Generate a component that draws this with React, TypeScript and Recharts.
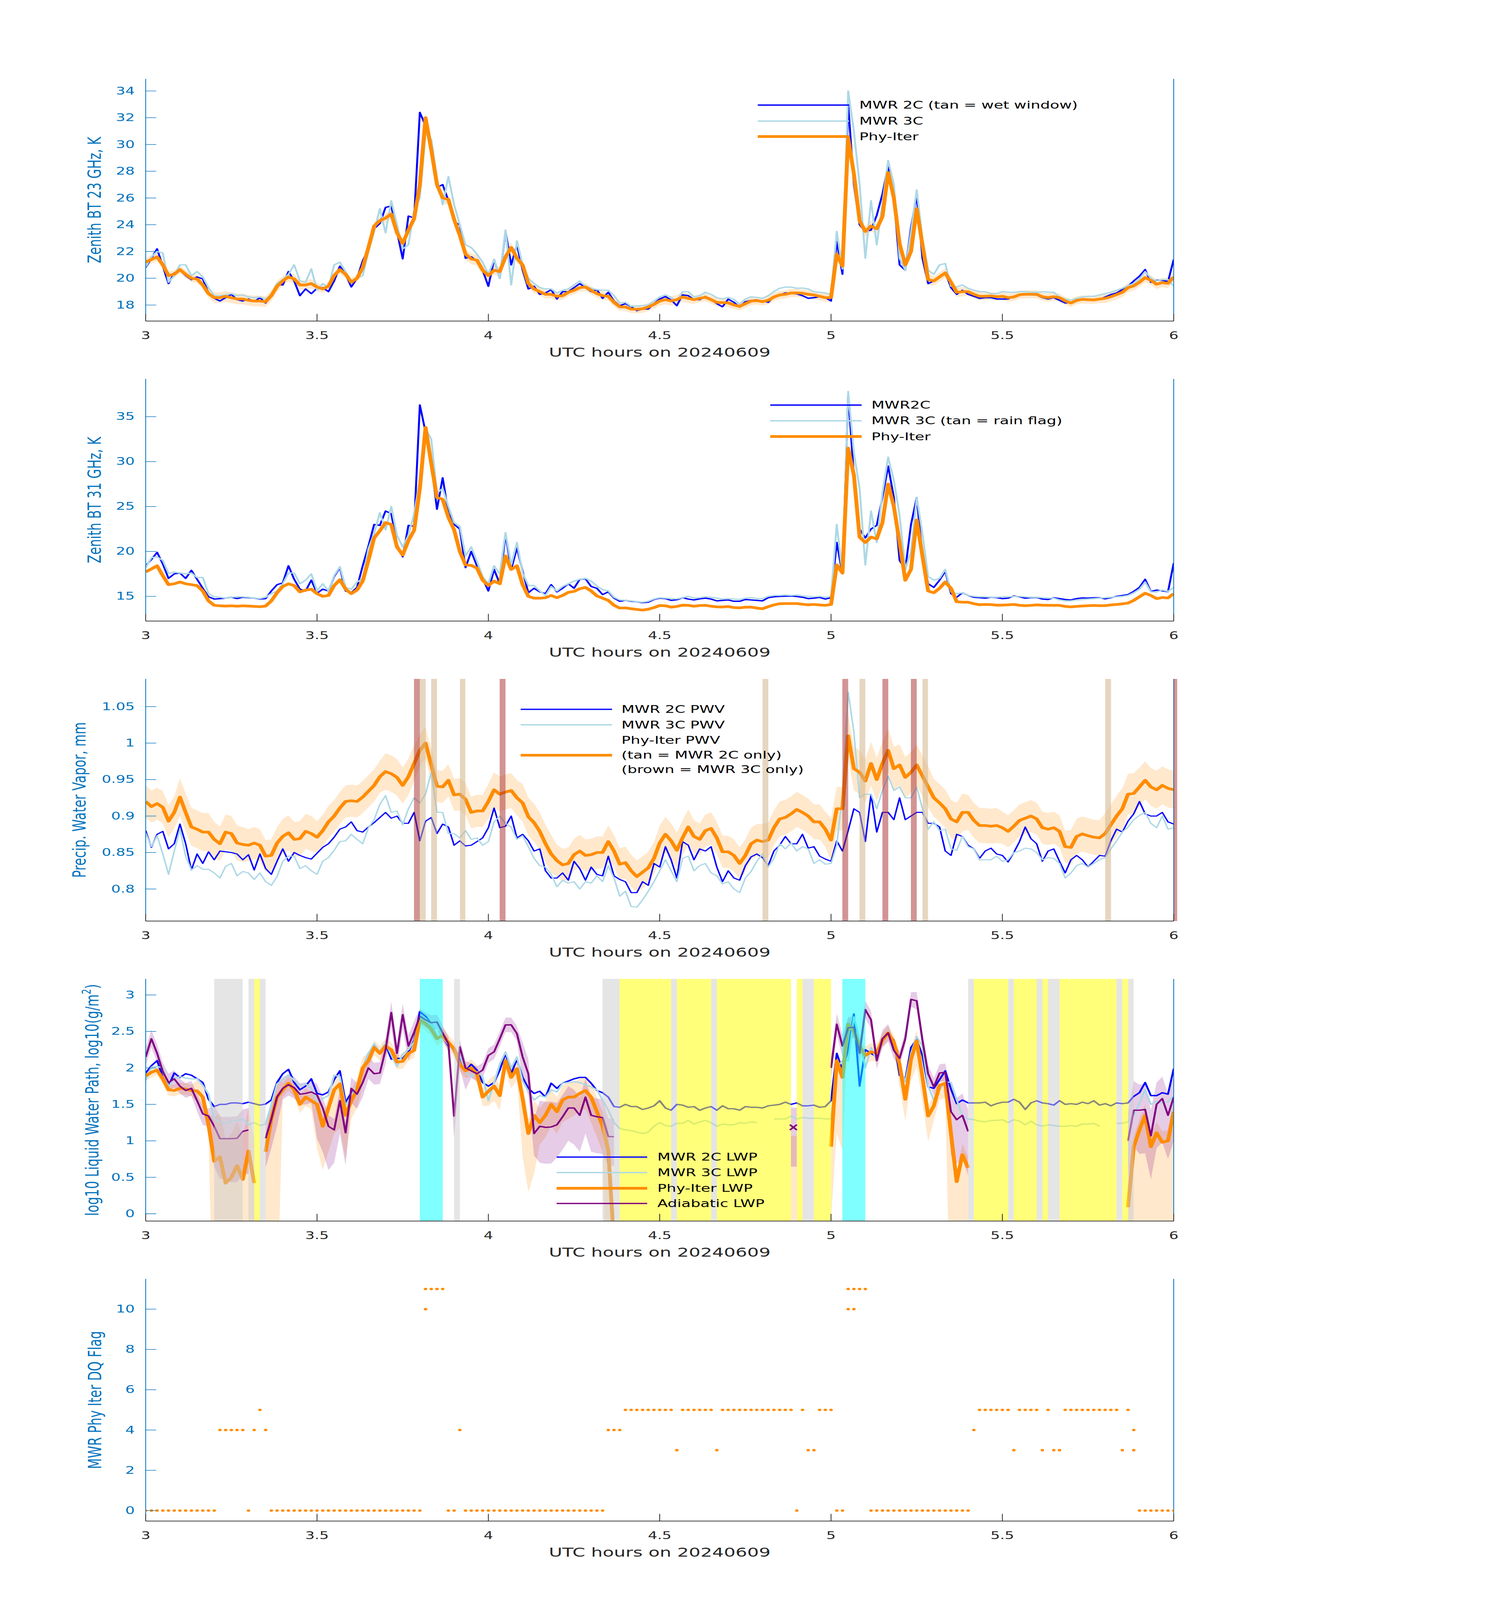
import React from "react";
import {
    ComposedChart,
    Line,
    Area,
    Scatter,
    XAxis,
    YAxis,
    ReferenceArea,
    ReferenceLine,
} from "recharts";

const FONT = "'DejaVu Sans', sans-serif";
const AXIS_BLUE = "#0072BD";
const AXIS_DARK = "#262626";
const BLUE = "#0000FF";
const LIGHT_BLUE = "#ADD8E6";
const ORANGE = "#FF8C00";
const PURPLE = "#800080";

const X_TICKS = [3, 3.5, 4, 4.5, 5, 5.5, 6];
// all series are sampled once a minute starting at 03:00 UTC
const START_HOUR = 3;

// ---- panel 1: 23 GHz brightness temperature (K)
const mwr2c23 = [
    20.8, 21.5, 22.2, 20.9, 19.6, 20.4, 20.6, 20.2, 19.9, 20.1,
    19.95, 18.9, 18.5, 18.3, 18.55, 18.8, 18.4, 18.3, 18.45, 18.25,
    18.55, 18.15, 18.7, 19.55, 19.5, 20.5, 19.8, 18.7, 19.2, 18.85,
    19.25, 19.3, 19.0, 19.8, 20.9, 20.3, 19.35, 20.0, 21.3, 22.2,
    23.7, 24.1, 25.3, 25.4, 23.5, 21.45, 24.65, 24.5, 32.4, 31.4,
    30.0, 26.8, 27.0, 25.8, 24.2, 24.0, 21.5, 21.6, 21.3, 20.6,
    19.4, 21.4, 20.0, 23.5, 21.0, 22.5, 20.6, 19.2, 19.4, 18.8,
    18.9, 19.15, 18.45, 19.0, 19.0, 19.3, 19.6, 19.3, 19.0, 19.15,
    18.5, 18.95, 18.3, 17.95, 18.1, 17.88, 17.58, 17.7, 17.7, 18.1,
    18.45, 18.63, 18.38, 17.95, 18.76, 18.7, 18.4, 18.4, 18.64, 18.4,
    18.1, 17.87, 18.44, 18.2, 17.85, 18.25, 18.35, 18.38, 18.3, 18.2,
    18.64, 18.76, 18.9, 18.88, 18.83, 18.7, 18.5, 18.55, 18.62, 18.55,
    18.3, 22.75, 20.3, 33.0, 27.0, 24.0, 23.5, 23.6, 24.7, 26.3,
    28.4, 26.0, 21.0, 20.6, 23.8, 26.2, 21.5, 19.6, 19.8, 20.1,
    20.45, 19.3, 18.8, 19.1, 18.8, 18.65, 18.5, 18.55, 18.55, 18.45,
    18.45, 18.45, 18.65, 18.78, 18.8, 18.77, 18.75, 18.55, 18.45, 18.55,
    18.35, 18.15, 18.2, 18.3, 18.4, 18.4, 18.4, 18.42, 18.6, 18.78,
    18.9, 19.15, 19.4, 19.8, 20.15, 20.65, 19.7, 19.85, 19.85, 19.75,
    21.4,
];
const mwr3c23 = [
    20.85, 21.6, 22.0, 21.9, 19.7, 20.2, 21.0, 21.0, 20.2, 20.5,
    20.1, 19.3, 18.7, 18.7, 18.75, 18.85, 18.7, 18.75, 18.6, 18.55,
    18.6, 18.45, 18.8, 19.6, 19.9, 20.3, 21.0, 19.8, 19.7, 20.7,
    19.1, 19.6, 19.3, 21.0, 21.2, 20.5, 19.7, 20.0, 20.2, 22.0,
    23.5, 25.2, 23.4, 25.8, 24.0, 22.2, 22.5, 25.1, 26.0, 30.8,
    30.4, 27.5, 25.5, 27.6, 25.5, 24.0, 22.5, 22.3, 21.8, 21.2,
    20.3, 21.4, 20.0, 23.6, 19.5, 22.8, 21.0, 20.0, 19.6, 19.3,
    19.2, 19.2, 18.9, 19.1, 19.2, 19.5, 19.8, 19.4, 19.25, 19.15,
    19.1, 19.1, 18.7, 18.15, 18.2, 17.9, 17.93, 17.95, 18.0, 18.3,
    18.6, 18.76, 18.57, 18.3, 19.0, 19.0, 18.6, 18.7, 18.95, 18.8,
    18.55, 18.45, 18.57, 18.42, 18.05, 18.45, 18.62, 18.57, 18.5, 18.7,
    19.0, 19.25, 19.34, 19.34, 19.25, 19.27, 19.2, 19.0, 18.95, 18.9,
    18.8, 23.5, 20.7, 34.0, 31.0, 27.0, 21.5, 25.8, 22.5, 25.6,
    28.8, 27.0, 21.5, 20.6, 23.5, 26.6, 23.0, 20.6, 20.3, 21.0,
    21.1, 19.4, 19.35, 19.5, 19.25, 19.1, 19.0, 19.0, 18.85, 18.85,
    19.0, 18.95, 18.95, 19.0, 19.0, 18.95, 18.95, 19.0, 18.95, 18.95,
    18.6, 18.45, 18.35, 18.5, 18.6, 18.65, 18.65, 18.75, 18.85, 18.95,
    19.1, 19.25, 19.45, 19.6, 19.95, 20.5, 20.0, 19.8, 19.9, 19.9,
    19.4,
];
const phy23 = [
    21.2, 21.4, 21.6, 21.0, 20.2, 20.3, 20.65, 20.3, 20.0, 19.95,
    19.5, 18.85, 18.55, 18.55, 18.65, 18.55, 18.45, 18.45, 18.35, 18.3,
    18.3, 18.25, 18.7, 19.4, 19.8, 20.1, 19.95, 19.5, 19.5, 19.6,
    19.35, 19.2, 19.4, 20.2, 20.65, 20.3, 19.7, 20.0, 20.8, 22.3,
    23.9, 24.3, 24.5, 24.8, 23.4, 22.6, 23.6, 24.45, 27.0, 32.0,
    29.6, 27.0, 26.0, 25.9, 24.4, 23.2, 21.8, 21.45, 21.35, 20.6,
    20.2, 20.6, 20.5, 21.6, 22.3, 21.5, 21.0, 19.6, 19.2, 19.0,
    18.8, 18.8, 18.65, 18.7, 18.95, 19.1, 19.3, 19.35, 19.1, 18.85,
    18.7, 18.65, 18.2, 17.87, 17.85, 17.7, 17.68, 17.72, 17.85, 18.05,
    18.3, 18.4, 18.3, 18.4, 18.6, 18.5, 18.4, 18.5, 18.58, 18.4,
    18.2, 18.18, 18.16, 18.0, 17.9, 18.1, 18.3, 18.33, 18.25, 18.35,
    18.6, 18.75, 18.8, 18.9, 18.9, 18.88, 18.8, 18.75, 18.65, 18.55,
    18.56, 21.8, 20.9, 30.5, 27.8, 24.3, 23.5, 23.9, 23.7, 24.6,
    27.9, 26.0, 22.6, 21.0, 22.0, 25.2, 22.5, 19.9, 19.8, 20.1,
    20.4, 19.7, 18.95, 19.0, 19.0, 18.8, 18.65, 18.65, 18.68, 18.62,
    18.65, 18.55, 18.6, 18.77, 18.8, 18.8, 18.8, 18.62, 18.55, 18.62,
    18.55, 18.3, 18.15, 18.35, 18.42, 18.4, 18.38, 18.44, 18.5, 18.62,
    18.78, 18.95, 19.3, 19.43, 19.7, 20.05, 19.85, 19.55, 19.68, 19.62,
    20.1,
];
// Phy-Iter uncertainty half width, one value per 6 minutes
const unc23 = [
    0.3, 0.3, 0.4, 0.4, 0.35, 0.3, 0.3, 0.35, 0.4, 0.4,
    0.35, 0.3, 0.3, 0.3, 0.3, 0.35, 0.3, 0.3, 0.3, 0.3,
    0.35, 0.4, 0.4, 0.35, 0.3, 0.3, 0.3, 0.3, 0.35, 0.35,
    0.35,
];

// ---- panel 2: 31 GHz brightness temperature (K)
const mwr2c31 = [
    18.4, 19.1, 19.9, 18.6, 17.0, 17.5, 17.6, 17.0, 17.9, 16.9,
    15.9, 14.95, 14.7, 14.75, 14.8, 14.9, 14.75, 14.9, 14.85, 14.8,
    14.7, 14.75, 15.6, 16.3, 16.5, 18.4, 16.9, 15.8, 15.6, 16.8,
    15.35, 15.8, 15.6, 17.2, 18.2, 15.6, 15.4, 16.0, 18.4, 20.6,
    23.0, 22.9, 24.5, 24.2, 20.8, 19.4, 22.9, 22.8, 36.3, 33.3,
    29.8, 24.7, 28.2, 24.3, 23.0, 22.5, 18.2, 20.0, 18.4, 17.0,
    15.6, 18.0, 16.4, 21.9, 18.0, 20.4, 17.8, 15.4, 15.9, 15.5,
    15.3, 16.3, 15.5, 15.9, 16.4, 15.9, 16.9, 16.95, 16.1, 15.9,
    15.2, 15.5, 14.8, 14.45, 14.55, 14.45, 14.4, 14.3, 14.35, 14.65,
    14.8, 14.75, 14.55, 14.62, 14.85, 14.7, 14.6, 14.72, 14.8, 14.7,
    14.5, 14.55, 14.6, 14.45, 14.45, 14.65, 14.6, 14.55, 14.5, 14.85,
    14.95, 15.0, 15.02, 15.04, 14.98, 14.9, 14.75, 14.8, 14.88, 14.7,
    14.85, 21.0, 17.5, 37.5, 28.4, 22.5, 21.5, 22.5, 22.9, 26.0,
    29.5, 26.0, 19.0, 18.0, 23.0, 26.0, 19.5, 16.4, 16.0, 16.8,
    17.8, 15.3, 14.9, 15.4, 15.1, 14.9, 14.85, 14.8, 14.9, 14.85,
    14.75, 14.8, 15.05, 14.95, 14.8, 14.85, 14.88, 14.7, 14.65, 14.85,
    14.75, 14.65, 14.6, 14.75, 14.83, 14.8, 14.85, 14.85, 14.72, 14.85,
    15.0, 15.1, 15.2, 15.55, 16.0, 16.9, 15.55, 15.7, 15.6, 15.52,
    18.7,
];
const mwr3c31 = [
    18.2, 19.3, 19.4, 19.0, 17.55, 17.7, 17.6, 17.5, 17.6, 17.1,
    17.1, 15.3, 14.95, 14.9, 14.8, 14.9, 14.95, 14.95, 14.9, 14.8,
    14.75, 14.9, 15.3, 15.6, 16.4, 17.6, 17.6, 16.4, 16.8, 17.5,
    15.6, 16.4, 15.6, 17.3, 18.3, 16.0, 15.8, 16.6, 16.95, 20.3,
    22.0, 24.3, 22.4, 25.0, 21.8, 20.5, 21.8, 24.2, 28.0, 33.7,
    32.5, 26.5, 27.0, 25.0, 23.2, 22.8, 19.5, 20.5, 18.9, 17.2,
    16.4, 18.4, 17.5, 22.1, 18.5, 21.0, 17.6, 16.2, 16.2, 15.6,
    15.1, 16.1, 15.6, 16.1, 16.4, 16.7, 16.9, 17.0, 16.7, 16.15,
    15.75, 15.6, 14.9, 14.6, 14.55, 14.5, 14.4, 14.35, 14.45, 14.7,
    14.85, 14.8, 14.75, 14.72, 14.85, 15.0, 14.8, 14.85, 14.95, 14.9,
    14.8, 14.7, 14.75, 14.7, 14.65, 14.8, 14.85, 14.75, 14.75, 15.0,
    15.1, 15.1, 15.15, 15.1, 15.15, 15.05, 15.0, 14.95, 15.0, 14.9,
    15.0, 23.0, 17.5, 37.8, 31.0, 27.0, 18.5, 24.5, 21.0, 26.5,
    30.5, 27.9, 24.0, 18.0, 20.0, 26.0, 22.0, 17.2, 16.8, 17.0,
    18.0, 15.5, 15.3, 15.4, 15.1, 15.0, 14.95, 14.95, 14.9, 14.9,
    14.95, 14.95, 15.0, 15.0, 14.95, 14.9, 14.9, 14.85, 14.8, 14.8,
    14.6, 14.5, 14.5, 14.6, 14.65, 14.7, 14.75, 14.8, 14.85, 14.9,
    14.95, 15.0, 15.1, 15.4, 15.8, 16.6, 15.5, 15.5, 15.7, 15.55,
    16.0,
];
const phy31 = [
    17.73, 18.05, 18.4, 17.3, 16.3, 16.4, 16.6, 16.4, 16.3, 16.2,
    15.6, 14.5, 14.0, 13.95, 13.92, 13.95, 13.9, 13.95, 13.92, 13.88,
    13.85, 13.92, 14.5, 15.4, 16.1, 16.4, 16.2, 15.5, 15.7, 15.8,
    15.3, 15.0, 15.1, 16.2, 16.85, 15.8, 15.3, 15.7, 16.7, 19.0,
    21.5, 22.3, 23.2, 23.0, 20.5, 19.6, 21.2, 22.35, 27.0, 33.8,
    29.8, 26.0, 25.8, 23.8, 22.4, 20.0, 18.5, 18.45, 18.15, 16.8,
    16.2, 16.7, 16.4, 19.5, 18.0, 18.4, 16.3, 15.0, 14.8, 14.8,
    14.85, 15.1, 14.85, 15.1, 15.45, 15.55, 15.85, 16.0, 15.6, 15.05,
    14.8, 14.55, 14.0, 13.7, 13.72, 13.62, 13.55, 13.47, 13.57, 13.75,
    13.98, 13.95, 13.8, 13.88, 14.02, 14.0, 13.9, 13.98, 14.0, 13.9,
    13.83, 13.82, 13.87, 13.75, 13.72, 13.8, 13.8, 13.7, 13.62, 13.85,
    14.05, 14.18, 14.2, 14.2, 14.2, 14.12, 14.06, 14.1, 14.05, 14.0,
    14.1, 18.5, 17.6, 31.5, 28.5, 21.6, 21.0, 21.6, 21.4, 23.2,
    27.5, 25.0, 21.0, 16.8, 18.0, 23.5, 19.5, 15.6, 15.4, 15.9,
    16.6, 15.9, 14.4, 14.35, 14.35, 14.18, 14.07, 14.1, 14.08, 14.02,
    14.03, 14.06, 14.1, 14.0, 13.96, 14.0, 14.05, 14.02, 14.0, 14.0,
    14.0, 13.88, 13.83, 13.88, 13.93, 13.96, 13.99, 13.96, 13.97, 14.05,
    14.1, 14.17, 14.25, 14.55, 14.95, 15.35, 15.1, 14.75, 14.87, 14.82,
    15.3,
];
const unc31 = [
    0.15, 0.15, 0.15, 0.15, 0.15, 0.15, 0.15, 0.2, 0.2, 0.2,
    0.15, 0.15, 0.15, 0.15, 0.15, 0.15, 0.15, 0.15, 0.15, 0.15,
    0.15, 0.2, 0.2, 0.15, 0.15, 0.15, 0.15, 0.15, 0.15, 0.15,
    0.15,
];

// ---- panel 3: precipitable water vapor (mm)
const pwv2c = [
    0.880, 0.857, 0.875, 0.879, 0.855, 0.862, 0.889, 0.862, 0.826, 0.848,
    0.835, 0.851, 0.84, 0.852, 0.851, 0.85, 0.848, 0.84, 0.847, 0.826,
    0.848, 0.828, 0.82, 0.838, 0.855, 0.838, 0.85, 0.846, 0.843, 0.841,
    0.849, 0.857, 0.862, 0.871, 0.882, 0.885, 0.892, 0.88, 0.878, 0.885,
    0.891, 0.898, 0.905, 0.897, 0.9, 0.89, 0.89, 0.905, 0.866, 0.893,
    0.898, 0.876, 0.889, 0.885, 0.86, 0.866, 0.859, 0.86, 0.865, 0.87,
    0.884, 0.911, 0.884, 0.886, 0.9, 0.87, 0.875, 0.866, 0.852, 0.855,
    0.825, 0.815, 0.815, 0.822, 0.812, 0.838, 0.828, 0.812, 0.83, 0.82,
    0.818, 0.845, 0.818, 0.813, 0.81, 0.795, 0.795, 0.81, 0.805, 0.835,
    0.83, 0.858, 0.84, 0.815, 0.865, 0.86, 0.84, 0.855, 0.852, 0.858,
    0.83, 0.81, 0.825, 0.815, 0.812, 0.832, 0.844, 0.848, 0.843, 0.832,
    0.852, 0.86, 0.872, 0.862, 0.862, 0.875, 0.856, 0.858, 0.845, 0.841,
    0.838, 0.866, 0.852, 0.88, 0.91, 0.905, 0.865, 0.93, 0.878, 0.905,
    0.905, 0.895, 0.925, 0.895, 0.9, 0.905, 0.905, 0.89, 0.89, 0.885,
    0.852, 0.846, 0.875, 0.872, 0.86, 0.855, 0.842, 0.852, 0.856, 0.848,
    0.846, 0.837, 0.85, 0.865, 0.885, 0.869, 0.862, 0.838, 0.852, 0.855,
    0.838, 0.822, 0.84, 0.846, 0.84, 0.83, 0.838, 0.846, 0.845, 0.866,
    0.882, 0.878, 0.893, 0.903, 0.92, 0.903, 0.9, 0.9, 0.905, 0.892,
    0.889,
];
const pwv3c = [
    0.877, 0.858, 0.873, 0.848, 0.82, 0.852, 0.882, 0.845, 0.826, 0.832,
    0.827, 0.827, 0.822, 0.815, 0.831, 0.835, 0.818, 0.824, 0.822, 0.813,
    0.822, 0.81, 0.805, 0.817, 0.838, 0.845, 0.845, 0.828, 0.832, 0.825,
    0.82, 0.838, 0.843, 0.853, 0.865, 0.866, 0.875, 0.868, 0.862, 0.884,
    0.895, 0.916, 0.928, 0.905, 0.907, 0.888, 0.91, 0.925, 0.918, 0.93,
    0.96, 0.905, 0.905, 0.876, 0.876, 0.87, 0.88, 0.868, 0.87, 0.86,
    0.865, 0.892, 0.9, 0.89, 0.885, 0.868, 0.873, 0.858, 0.842, 0.832,
    0.83, 0.82, 0.803, 0.812, 0.808, 0.81, 0.8, 0.81, 0.808, 0.818,
    0.81, 0.832, 0.815, 0.79, 0.797, 0.776, 0.775, 0.785, 0.797, 0.81,
    0.825, 0.84, 0.825, 0.81, 0.842, 0.845, 0.825, 0.832, 0.835, 0.822,
    0.818, 0.807, 0.81, 0.8, 0.795, 0.815, 0.824, 0.838, 0.848, 0.83,
    0.842, 0.862, 0.855, 0.863, 0.852, 0.858, 0.855, 0.835, 0.84, 0.834,
    0.835, 0.86, 0.93, 1.07, 1.015, 0.925, 0.93, 0.93, 0.91, 0.935,
    0.955, 0.935, 0.94, 0.925, 0.925, 0.94, 0.91, 0.882, 0.892, 0.88,
    0.882, 0.855, 0.853, 0.872, 0.858, 0.855, 0.84, 0.84, 0.84, 0.845,
    0.838, 0.84, 0.85, 0.852, 0.856, 0.855, 0.85, 0.84, 0.843, 0.842,
    0.835, 0.815, 0.822, 0.832, 0.835, 0.83, 0.835, 0.84, 0.843, 0.855,
    0.866, 0.878, 0.885, 0.895, 0.901, 0.905, 0.89, 0.884, 0.9, 0.882,
    0.884,
];
const pwvPhy = [
    0.920, 0.913, 0.917, 0.912, 0.893, 0.905, 0.926, 0.905, 0.885, 0.882,
    0.878, 0.878, 0.868, 0.862, 0.878, 0.876, 0.863, 0.861, 0.86, 0.863,
    0.86, 0.845, 0.846, 0.863, 0.872, 0.877, 0.868, 0.869, 0.879, 0.876,
    0.871, 0.88, 0.892, 0.90, 0.911, 0.92, 0.921, 0.92, 0.926, 0.934,
    0.942, 0.954, 0.961, 0.958, 0.953, 0.942, 0.954, 0.972, 0.99, 1.0,
    0.97, 0.941, 0.94, 0.949, 0.929, 0.93, 0.923, 0.905, 0.907, 0.907,
    0.92, 0.936, 0.93, 0.933, 0.935, 0.925, 0.918, 0.899, 0.891, 0.879,
    0.862, 0.848, 0.839, 0.833, 0.835, 0.847, 0.852, 0.846, 0.847, 0.850,
    0.85, 0.865, 0.852, 0.834, 0.836, 0.825, 0.817, 0.823, 0.829, 0.842,
    0.863, 0.875, 0.866, 0.853, 0.87, 0.885, 0.872, 0.868, 0.88, 0.883,
    0.87, 0.851, 0.851, 0.846, 0.835, 0.846, 0.862, 0.867, 0.865, 0.867,
    0.884, 0.896, 0.898, 0.903, 0.909, 0.905, 0.90, 0.892, 0.892, 0.882,
    0.867, 0.91, 0.91, 1.01, 0.965, 0.96, 0.948, 0.972, 0.95, 0.972,
    0.99, 0.965, 0.97, 0.953, 0.96, 0.97, 0.955, 0.94, 0.925, 0.918,
    0.91, 0.896, 0.892, 0.905, 0.905, 0.894, 0.887, 0.887, 0.886, 0.887,
    0.884, 0.879, 0.886, 0.894, 0.897, 0.90, 0.896, 0.884, 0.882, 0.884,
    0.879, 0.858, 0.857, 0.872, 0.8755, 0.873, 0.871, 0.870, 0.876, 0.888,
    0.90, 0.91, 0.93, 0.931, 0.94, 0.949, 0.94, 0.936, 0.942, 0.938,
    0.936,
];
const pwvUnc = [
    0.022, 0.026, 0.024, 0.022, 0.024, 0.022, 0.022, 0.025, 0.022, 0.022,
    0.024, 0.026, 0.022, 0.022, 0.022, 0.024, 0.022, 0.022, 0.024, 0.024,
    0.03, 0.03, 0.028, 0.026, 0.024, 0.022, 0.022, 0.024, 0.028, 0.026,
    0.026,
];
// 1-minute flagged windows (hours)
const onlyMwr3c = [[3.783, 3.8], [4.033, 4.05], [5.033, 5.05], [5.15, 5.167], [5.233, 5.25], [6.0, 6.01]];
const onlyMwr2c = [[3.8, 3.817], [3.833, 3.85], [3.917, 3.933], [4.8, 4.817], [5.083, 5.1], [5.267, 5.283], [5.8, 5.817]];

// ---- panel 4: log10 liquid water path
const N = null;
const lwp2c = [
    1.93, 2.03, 2.1, 1.87, 1.75, 1.93, 1.87, 1.92, 1.9, 1.85,
    1.8, 1.57, 1.47, 1.5, 1.5, 1.52, 1.52, 1.51, 1.53, 1.51,
    1.49, 1.505, 1.56, 1.8, 1.92, 1.98, 1.8, 1.7, 1.75, 1.85,
    1.65, 1.63, 1.67, 1.84, 1.96, 1.53, 1.66, 1.72, 1.99, 2.2,
    2.3, 2.19, 2.33, 2.12, 2.13, 2.13, 2.22, 2.38, 2.77, 2.71,
    2.6, 2.42, 2.43, 2.3, 2.26, 2.15, 1.96, 2.05, 1.97, 1.8,
    1.75, 1.8, 1.97, 2.2, 1.92, 2.12, 1.87, 1.72, 1.65, 1.68,
    1.6, 1.79, 1.72, 1.79, 1.82, 1.85, 1.87, 1.87, 1.79, 1.69,
    1.66, 1.6, 1.47, 1.46, 1.5, 1.47, 1.47, 1.43, 1.45, 1.48,
    1.55, 1.45, 1.42, 1.5, 1.49, 1.46, 1.47, 1.42, 1.45, 1.47,
    1.42, 1.48, 1.44, 1.44, 1.42, 1.47, 1.46, 1.46, 1.45, 1.48,
    1.49, 1.5, 1.53, 1.5, 1.52, 1.48, 1.48, 1.49, 1.46, 1.47,
    1.55, 2.2, 1.97, 2.25, 2.74, 1.75, 2.25, 2.2, 2.15, 2.4,
    2.48, 2.38, 1.9, 1.84, 2.28, 2.39, 2.17, 1.74, 1.72, 1.84,
    1.96, 1.71, 1.51, 1.56, 1.52, 1.52, 1.52, 1.53, 1.48, 1.51,
    1.53, 1.53, 1.57, 1.53, 1.43, 1.52, 1.55, 1.52, 1.51, 1.49,
    1.55, 1.5, 1.51, 1.5, 1.53, 1.51, 1.55, 1.49, 1.51, 1.48,
    1.52, 1.51, 1.52, 1.61, 1.66, 1.8, 1.62, 1.62, 1.66, 1.64,
    1.99,
];
const lwp3c = [
    1.83, 2.01, 2.02, 2.0, 1.74, 1.86, 1.88, 1.86, 1.85, 1.85,
    1.76, 1.64, 1.3, 1.26, 1.24, 1.27, 1.28, 1.3, 1.22, 1.25,
    1.21, 1.23, 1.5, 1.78, 1.84, 1.9, 1.83, 1.76, 1.78, 1.72,
    1.54, 1.58, 1.62, 1.9, 1.88, 1.48, 1.62, 1.76, 1.99, 2.2,
    2.33, 2.22, 2.34, 2.18, 2.02, 2.19, 2.25, 2.36, 2.7, 2.68,
    2.6, 2.42, 2.42, 2.32, 2.22, 2.18, 1.95, 1.88, 1.95, 1.88,
    1.55, 1.8, 2.05, 2.22, 2.0, 2.15, 1.82, 1.68, 1.56, 1.62,
    1.6, 1.7, 1.67, 1.79, 1.8, 1.81, 1.8, 1.77, 1.74, 1.7,
    1.56, 1.42, 1.25, 1.17, 1.15, 1.14, 1.12, 1.1, 1.12, 1.2,
    1.25, 1.21, 1.2, 1.24, 1.24, 1.28, 1.23, 1.26, 1.28, 1.25,
    1.2, 1.23, 1.22, 1.22, 1.25, 1.24, 1.26, 1.25, N, N,
    1.3, 1.3, 1.3, 1.34, 1.3, 1.32, 1.31, 1.31, 1.31, 1.3,
    1.3, 2.0, 2.1, 2.1, 2.7, 2.38, 2.0, 2.28, 2.1, 2.38,
    2.5, 2.33, 2.0, 1.81, 2.2, 2.43, 2.3, 1.75, 1.56, 1.7,
    1.81, 1.8, 1.56, 1.34, 1.3, 1.29, 1.27, 1.26, 1.28, 1.28,
    1.29, 1.25, 1.29, 1.27, 1.22, 1.27, 1.22, 1.2, 1.22, 1.21,
    1.2, 1.2, 1.21, 1.2, 1.23, 1.23, 1.24, 1.2, N, N,
    1.24, 1.24, 1.26, 1.35, 1.52, 1.7, 1.5, 1.54, 1.52, 1.54,
    1.61,
];
const lwpPhy = [
    1.89, 1.94, 1.97, 1.85, 1.7, 1.69, 1.72, 1.71, 1.69, 1.685,
    1.6, 1.22, 0.72, 0.78, 0.42, 0.5, 0.66, 0.47, 0.86, 0.42,
    N, 0.85, 1.3, 1.6, 1.7, 1.79, 1.7, 1.5, 1.6, 1.55,
    1.5, 1.2, 1.45, 1.7, 1.78, 1.35, 1.55, 1.7, 2.0, 2.1,
    2.28, 2.2, 2.3, 2.25, 2.08, 2.09, 2.2, 2.24, 2.66, 2.61,
    2.53, 2.4, 2.45, 2.35, 2.26, 2.05, 1.96, 2.0, 1.92, 1.6,
    1.68, 1.75, 1.62, 2.1, 1.87, 1.99, 1.58, 1.1, 1.35, 1.25,
    1.35, 1.5, 1.4, 1.56, 1.6, 1.6, 1.65, 1.69, 1.6, 1.4,
    1.2, 0.86, -0.4, N, N, N, N, N, N, N,
    N, N, N, N, N, N, N, N, N, N,
    N, N, N, N, N, N, N, N, N, N,
    N, N, N, N, N, N, N, N, N, N,
    0.92, 2.1, 1.87, 2.6, 2.5, 2.3, 2.17, 2.22, 2.2, 2.38,
    2.48, 2.35, 2.05, 1.57, 2.12, 2.37, 1.88, 1.34, 1.48, 1.76,
    1.79, 1.1, 0.44, 0.81, 0.63, N, N, N, N, N,
    N, N, N, N, N, N, N, N, N, N,
    N, N, N, N, N, N, N, N, N, N,
    N, N, 0.09, 0.92, 1.15, 1.35, 0.92, 1.11, 0.98, 1.0,
    1.4,
];
const lwpAdiabatic = [
    2.15, 2.4, 2.2, 1.95, 1.8, 1.85, 1.75, 1.69, 1.72, 1.55,
    1.37, 1.34, 1.2, 1.03, 1.03, 1.03, 1.035, 1.13, 1.15, N,
    N, 1.035, 1.3, 1.6, 1.72, 1.77, 1.73, 1.64, 1.65, 1.67,
    1.63, 1.45, 1.2, 1.15, 1.55, 1.11, 1.72, 1.64, 1.8, 2.0,
    1.92, 1.93, 2.25, 2.76, 2.2, 2.73, 2.3, 2.49, 2.71, 2.66,
    2.62, 2.63, 2.48, 2.33, 1.34, 2.29, 2.0, 1.96, 1.92, 1.97,
    2.17, 2.22, 2.4, 2.59, 2.59, 2.47, 2.15, 1.92, 1.1, 1.2,
    1.185, 1.19, 1.22, 1.33, 1.45, 1.45, 1.35, 1.6, 1.35, 1.33,
    1.32, 1.06, 1.056, N, N, N, N, N, N, N,
    N, N, N, N, N, N, N, N, N, N,
    N, N, N, N, N, N, N, N, N, N,
    N, N, N, N, N, N, N, N, N, N,
    2.0, 2.6, 2.3, 2.55, 2.56, 2.2, 2.8, 2.66, 2.1, 2.4,
    2.48, 2.24, 2.13, 2.4, 2.94, 2.92, 2.38, 1.92, 1.74, 1.93,
    1.94, 1.4, 1.29, 1.35, 1.13, N, N, N, N, N,
    N, N, N, N, N, N, N, N, N, N,
    N, N, N, N, N, N, N, N, N, N,
    N, N, 1.0, 1.42, 1.42, 1.43, 1.07, 1.5, 1.58, 1.35,
    1.6,
];
// uncertainty below / above each retrieval, one value per 3 minutes
const lwpPhyLo = [
    0.07, 0.08, 0.08, 0.15, 3, 3, 3, 3, 0.1, 0.12,
    0.6, 0.6, 0.25, 0.1, 0.1, 0.1, 0.1, 0.1, 0.1, 0.12,
    0.2, 0.15, 0.8, 0.3, 0.3, 0.25, 0.35, 3, 0, 0,
    0, 0, 0, 0, 0, 0, 0, 0, 0, 0,
    1.0, 0.1, 0.12, 0.1, 0.3, 0.35, 0.2, 3, 3, 0,
    0, 0, 0, 0, 0, 0, 0, 3, 3, 3,
    3,
];
const lwpPhyHi = [
    0.07, 0.08, 0.08, 0.15, 0.6, 0.6, 0.6, 0.25, 0.1, 0.12,
    0.15, 0.15, 0.15, 0.1, 0.1, 0.1, 0.1, 0.1, 0.1, 0.12,
    0.15, 0.15, 0.2, 0.2, 0.2, 0.2, 0.2, 0.3, 0, 0,
    0, 0, 0, 0, 0, 0, 0, 0, 0, 0,
    0.1, 0.1, 0.12, 0.1, 0.15, 0.15, 0.15, 0.15, 0.15, 0,
    0, 0, 0, 0, 0, 0, 0, 0.15, 0.15, 0.15,
    0.15,
];
const lwpAdLo = [
    0.12, 0.12, 0.1, 0.15, 0.55, 0.6, 0.6, 0.4, 0.15, 0.15,
    0.6, 0.45, 0.2, 0.15, 0.2, 0.2, 0.1, 0.1, 0.3, 0.1,
    0.1, 0.1, 0.3, 0.5, 0.45, 0.5, 0.5, 0.4, 0, 0,
    0, 0, 0, 0, 0, 0, 0, 0, 0, 0,
    0.15, 0.15, 0.12, 0.12, 0.1, 0.12, 0.12, 0.6, 0.6, 0,
    0, 0, 0, 0, 0, 0, 0, 0.5, 0.6, 0.6,
    0.6,
];
const lwpAdHi = [
    0.12, 0.12, 0.1, 0.1, 0.3, 0.3, 0.3, 0.2, 0.15, 0.15,
    0.15, 0.15, 0.15, 0.15, 0.15, 0.15, 0.1, 0.1, 0.1, 0.1,
    0.1, 0.1, 0.2, 0.35, 0.3, 0.25, 0.25, 0.25, 0, 0,
    0, 0, 0, 0, 0, 0, 0, 0, 0, 0,
    0.15, 0.15, 0.12, 0.12, 0.1, 0.12, 0.12, 0.3, 0.3, 0,
    0, 0, 0, 0, 0, 0, 0, 0.4, 0.35, 0.3,
    0.3,
];
// a lone adiabatic estimate with its uncertainty columns
const lonePoint = [{ t: 4.89, v: 1.185 }];
const loneWindow = [4.883, 4.9];
const loneAdiabaticBand = [0.646, 1.455];
const lonePhyBand = [-0.1, 1.07];
// sky-condition shading windows (hours)
const skyGray = [
    [3.2, 3.283], [3.3, 3.317], [3.333, 3.35], [3.9, 3.917], [4.333, 4.383], [4.533, 4.55],
    [4.65, 4.667], [4.917, 4.95], [5.4, 5.417], [5.517, 5.533], [5.6, 5.617], [5.633, 5.667],
    [5.833, 5.85], [5.867, 5.883],
];
const skyYellow = [
    [3.317, 3.333], [4.383, 4.533], [4.55, 4.65], [4.667, 4.883], [4.9, 4.917], [4.95, 5.0],
    [5.417, 5.517], [5.533, 5.6], [5.617, 5.633], [5.667, 5.833], [5.85, 5.867],
];
const skyCyan = [[3.8, 3.867], [5.033, 5.1]];

// ---- panel 5: DQ flag, one per minute, plus a few doubled samples
const dqFlag = [
    0, 0, 0, 0, 0, 0, 0, 0, 0, 0,
    0, 0, 0, 4, 4, 4, 4, 4, 0, 4,
    5, 4, 0, 0, 0, 0, 0, 0, 0, 0,
    0, 0, 0, 0, 0, 0, 0, 0, 0, 0,
    0, 0, 0, 0, 0, 0, 0, 0, 0, 11,
    11, 11, 11, 0, 0, 4, 0, 0, 0, 0,
    0, 0, 0, 0, 0, 0, 0, 0, 0, 0,
    0, 0, 0, 0, 0, 0, 0, 0, 0, 0,
    0, 4, 4, 4, 5, 5, 5, 5, 5, 5,
    5, 5, 5, 3, 5, 5, 5, 5, 5, 5,
    3, 5, 5, 5, 5, 5, 5, 5, 5, 5,
    5, 5, 5, 5, 0, 5, 3, 3, 5, 5,
    5, 0, 0, 11, 11, 11, 11, 0, 0, 0,
    0, 0, 0, 0, 0, 0, 0, 0, 0, 0,
    0, 0, 0, 0, 0, 4, 5, 5, 5, 5,
    5, 5, 3, 5, 5, 5, 5, 3, 5, 3,
    3, 5, 5, 5, 5, 5, 5, 5, 5, 5,
    5, 3, 5, 3, 0, 0, 0, 0, 0, 0,
    0,
];
const dqExtraMinute = [49, 123, 124, 173];
const dqExtraFlag = [10, 10, 10, 4];

// ---- layout (designed for a 3825 x 6000 page)
const CHART_W = 3825;
const PAGE_H = 6000;
const PLOT_TOPS = [296, 1421, 2546, 3671, 4796];
const PLOT_H = 908;
const M_TOP = 60;
const X_AXIS_H = 150;
const PLOT_LEFT = 373;
const PLOT_RIGHT = 3005;
const Y_AXIS_W = 250;

const hourOf = (i: number) => START_HOUR + i / 60;
const span = (v: number | null, lo: number, hi: number) => (v == null ? null : [v - lo, v + hi]);

const rows23 = phy23.map((o, i) => ({
    t: hourOf(i), a: mwr2c23[i], c: mwr3c23[i], o,
    band: span(o, unc23[Math.floor(i / 6)], unc23[Math.floor(i / 6)]),
}));
const rows31 = phy31.map((o, i) => ({
    t: hourOf(i), a: mwr2c31[i], c: mwr3c31[i], o,
    band: span(o, unc31[Math.floor(i / 6)], unc31[Math.floor(i / 6)]),
}));
const rowsPwv = pwvPhy.map((o, i) => ({
    t: hourOf(i), a: pwv2c[i], c: pwv3c[i], o,
    band: span(o, pwvUnc[Math.floor(i / 6)], pwvUnc[Math.floor(i / 6)]),
}));
const rowsLwp = lwpPhy.map((o, i) => ({
    t: hourOf(i), a: lwp2c[i], c: lwp3c[i], o, p: lwpAdiabatic[i],
    band: span(o, lwpPhyLo[Math.floor(i / 3)], lwpPhyHi[Math.floor(i / 3)]),
    pband: span(lwpAdiabatic[i], lwpAdLo[Math.floor(i / 3)], lwpAdHi[Math.floor(i / 3)]),
}));
const rowsDq = [
    ...dqFlag.map((f, i) => ({ t: hourOf(i), f })),
    ...dqExtraMinute.map((m, k) => ({ t: hourOf(m), f: dqExtraFlag[k] })),
];

const YTick = ({ x, y, payload }: any) => (
    <g>
        <line x1={x} y1={y} x2={x + 27} y2={y} stroke={AXIS_BLUE} strokeWidth={2} />
        <text x={x - 28} y={y} textAnchor="end" dominantBaseline="central" fill={AXIS_BLUE} fontSize={38} fontFamily={FONT}>
            {String(payload.value)}
        </text>
    </g>
);

const XTick = ({ x, y, payload }: any) => (
    <g>
        <line x1={x} y1={y} x2={x} y2={y - 27} stroke={AXIS_DARK} strokeWidth={2} />
        <text x={x} y={y + 54} textAnchor="middle" dominantBaseline="central" fill={AXIS_DARK} fontSize={38} fontFamily={FONT}>
            {String(payload.value)}
        </text>
    </g>
);

const XMark = ({ cx, cy }: any) => (
    <g stroke={PURPLE} strokeWidth={5}>
        <line x1={cx - 9} y1={cy - 10} x2={cx + 9} y2={cy + 10} />
        <line x1={cx - 9} y1={cy + 10} x2={cx + 9} y2={cy - 10} />
    </g>
);

const DqDot = ({ cx, cy }: any) => <circle cx={cx} cy={cy} r={4.5} fill={ORANGE} />;

function Panel({ index, data, domain, ticks, children }: any) {
    return (
        <div style={{ position: "absolute", left: 0, top: PLOT_TOPS[index] - M_TOP }}>
            <ComposedChart
                width={CHART_W}
                height={M_TOP + PLOT_H + X_AXIS_H}
                data={data}
                margin={{ top: M_TOP, right: CHART_W - PLOT_RIGHT, bottom: 0, left: PLOT_LEFT - Y_AXIS_W }}
            >
                <XAxis
                    dataKey="t" type="number" domain={[3, 6]} ticks={X_TICKS} interval={0} allowDataOverflow
                    height={X_AXIS_H} tickSize={0} tickMargin={0} tickLine={false}
                    axisLine={{ stroke: AXIS_DARK, strokeWidth: 2.5 }} tick={<XTick />}
                />
                <YAxis
                    type="number" domain={domain} ticks={ticks} interval={0} allowDataOverflow
                    width={Y_AXIS_W} tickSize={0} tickMargin={0} tickLine={false}
                    axisLine={{ stroke: AXIS_BLUE, strokeWidth: 2 }} tick={<YTick />}
                />
                {children}
                <ReferenceLine x={6} stroke={AXIS_BLUE} strokeWidth={2} />
            </ComposedChart>
        </div>
    );
}

const lineProps = { type: "linear" as const, dot: false, activeDot: false, isAnimationActive: false, strokeLinejoin: "round" as const };
const bandProps = { type: "linear" as const, stroke: "none", dot: false, activeDot: false, isAnimationActive: false };

function shade(list: number[][], fill: string, opacity: number, key: string) {
    return list.map(([a, b], k) => (
        <ReferenceArea key={key + k} x1={a} x2={b} fill={fill} fillOpacity={opacity} stroke="none" ifOverflow="visible" zIndex={450} />
    ));
}

const Y_LABELS = [
    { cx: 242, text: "Zenith BT 23 GHz, K" },
    { cx: 242, text: "Zenith BT 31 GHz, K" },
    { cx: 203, text: "Precip. Water Vapor, mm" },
    { cx: 236, text: "log10 Liquid Water Path, log10(g/m" },
    { cx: 243, text: "MWR Phy Iter DQ Flag" },
];

const LEGENDS = [
    {
        x1: 1940, x2: 2174, tx: 2200,
        rows: [
            { y: 394, color: BLUE, w: 5, text: "MWR 2C (tan = wet window)" },
            { y: 454, color: LIGHT_BLUE, w: 5, text: "MWR 3C" },
            { y: 512, color: ORANGE, w: 10, text: "Phy-Iter" },
        ],
    },
    {
        x1: 1972, x2: 2206, tx: 2231,
        rows: [
            { y: 1519, color: BLUE, w: 5, text: "MWR2C" },
            { y: 1578, color: LIGHT_BLUE, w: 5, text: "MWR 3C (tan = rain flag)" },
            { y: 1637, color: ORANGE, w: 10, text: "Phy-Iter" },
        ],
    },
    {
        x1: 1333, x2: 1567, tx: 1591,
        rows: [
            { y: 2660, color: BLUE, w: 5, text: "MWR 2C PWV" },
            { y: 2718, color: LIGHT_BLUE, w: 5, text: "MWR 3C PWV" },
            { y: 2776, color: null, w: 0, text: "Phy-Iter PWV" },
            { y: 2832, color: ORANGE, w: 10, text: "(tan = MWR 2C only)" },
            { y: 2885, color: null, w: 0, text: "(brown = MWR 3C only)" },
        ],
    },
    {
        x1: 1425, x2: 1657, tx: 1683,
        rows: [
            { y: 4339, color: BLUE, w: 5, text: "MWR 2C LWP" },
            { y: 4397, color: LIGHT_BLUE, w: 5, text: "MWR 3C LWP" },
            { y: 4456, color: ORANGE, w: 10, text: "Phy-Iter LWP" },
            { y: 4513, color: PURPLE, w: 5, text: "Adiabatic LWP" },
        ],
    },
];

function Overlay() {
    return (
        <svg width={CHART_W} height={PAGE_H} style={{ position: "absolute", left: 0, top: 0, pointerEvents: "none" }}>
            {Y_LABELS.map((l, k) => {
                const cy = PLOT_TOPS[k] + PLOT_H / 2;
                return (
                    <text
                        key={"yl" + k} x={l.cx} y={cy} transform={`rotate(-90 ${l.cx} ${cy})`}
                        textAnchor="middle" dominantBaseline="central" fill={AXIS_BLUE} fontSize={47} fontFamily={FONT}
                    >
                        {l.text}
                        {k === 3 ? (<><tspan fontSize={32} dy={-16}>2</tspan><tspan dy={16}>)</tspan></>) : null}
                    </text>
                );
            })}
            {PLOT_TOPS.map((top, k) => (
                <text
                    key={"xl" + k} x={(PLOT_LEFT + PLOT_RIGHT) / 2} y={top + PLOT_H + 117}
                    textAnchor="middle" dominantBaseline="central" fill={AXIS_DARK} fontSize={47} fontFamily={FONT}
                >
                    UTC hours on 20240609
                </text>
            ))}
            {LEGENDS.map((lg, k) => (
                <g key={"lg" + k}>
                    {lg.rows.map((r, j) => (
                        <g key={j}>
                            {r.color ? <line x1={lg.x1} y1={r.y} x2={lg.x2} y2={r.y} stroke={r.color} strokeWidth={r.w} /> : null}
                            <text x={lg.tx} y={r.y} dominantBaseline="central" fill="#000" fontSize={39} fontFamily={FONT}>{r.text}</text>
                        </g>
                    ))}
                </g>
            ))}
        </svg>
    );
}

// the browser viewport can be shorter than the 6000 px design; fit the whole figure into it
function viewportFit() {
    if (typeof window === "undefined") return { sx: 1, sy: 1 };
    const w = window.innerWidth || CHART_W;
    const h = window.innerHeight || PAGE_H;
    return { sx: Math.min(1, w / CHART_W), sy: Math.min(1, h / PAGE_H) };
}

export default function App() {
    const { sx, sy } = viewportFit();
    return (
        <div style={{ position: "fixed", left: 0, top: 0, width: CHART_W * sx, height: PAGE_H * sy, overflow: "hidden", background: "#fff" }}>
            <div
                style={{
                    position: "absolute", left: 0, top: 0, width: CHART_W, height: PAGE_H,
                    transform: `scale(${sx}, ${sy})`, transformOrigin: "0 0",
                    background: "#fff", fontFamily: FONT,
                }}
            >
                <Panel index={0} data={rows23} domain={[16.8, 34.9]} ticks={[18, 20, 22, 24, 26, 28, 30, 32, 34]}>
                    <Area dataKey="band" fill={ORANGE} fillOpacity={0.2} {...bandProps} />
                    <Line dataKey="a" stroke={BLUE} strokeWidth={5} {...lineProps} />
                    <Line dataKey="c" stroke={LIGHT_BLUE} strokeWidth={5} {...lineProps} />
                    <Line dataKey="o" stroke={ORANGE} strokeWidth={10} {...lineProps} />
                </Panel>

                <Panel index={1} data={rows31} domain={[12.25, 39.2]} ticks={[15, 20, 25, 30, 35]}>
                    <Area dataKey="band" fill={ORANGE} fillOpacity={0.2} {...bandProps} />
                    <Line dataKey="a" stroke={BLUE} strokeWidth={5} {...lineProps} />
                    <Line dataKey="c" stroke={LIGHT_BLUE} strokeWidth={5} {...lineProps} />
                    <Line dataKey="o" stroke={ORANGE} strokeWidth={10} {...lineProps} />
                </Panel>

                <Panel index={2} data={rowsPwv} domain={[0.756, 1.088]} ticks={[0.8, 0.85, 0.9, 0.95, 1, 1.05]}>
                    <Area dataKey="band" fill={ORANGE} fillOpacity={0.2} {...bandProps} />
                    <Line dataKey="a" stroke={BLUE} strokeWidth={4} {...lineProps} />
                    <Line dataKey="c" stroke={LIGHT_BLUE} strokeWidth={4} {...lineProps} />
                    <Line dataKey="o" stroke={ORANGE} strokeWidth={10} {...lineProps} />
                    {shade(onlyMwr2c, "#D2B48C", 0.55, "tan")}
                    {shade(onlyMwr3c, "#A52A2A", 0.5, "brown")}
                </Panel>

                <Panel index={3} data={rowsLwp} domain={[-0.1, 3.22]} ticks={[0, 0.5, 1, 1.5, 2, 2.5, 3]}>
                    <Area dataKey="band" fill={ORANGE} fillOpacity={0.2} {...bandProps} />
                    <Area dataKey="pband" fill={PURPLE} fillOpacity={0.2} {...bandProps} />
                    <ReferenceArea x1={loneWindow[0]} x2={loneWindow[1]} y1={lonePhyBand[0]} y2={lonePhyBand[1]} fill={ORANGE} fillOpacity={0.2} stroke="none" />
                    <ReferenceArea x1={loneWindow[0]} x2={loneWindow[1]} y1={loneAdiabaticBand[0]} y2={loneAdiabaticBand[1]} fill={PURPLE} fillOpacity={0.2} stroke="none" />
                    <Line dataKey="a" stroke={BLUE} strokeWidth={5} {...lineProps} />
                    <Line dataKey="c" stroke={LIGHT_BLUE} strokeWidth={5} {...lineProps} />
                    <Line dataKey="o" stroke={ORANGE} strokeWidth={10} {...lineProps} />
                    <Line dataKey="p" stroke={PURPLE} strokeWidth={5} {...lineProps} />
                    <Scatter data={lonePoint} dataKey="v" shape={<XMark />} isAnimationActive={false} />
                    {shade(skyGray, "#CCCCCC", 0.5, "gray")}
                    {shade(skyYellow, "#FFFF00", 0.52, "yellow")}
                    {shade(skyCyan, "#00FFFF", 0.5, "cyan")}
                </Panel>

                <Panel index={4} data={rowsDq} domain={[-0.52, 11.5]} ticks={[0, 2, 4, 6, 8, 10]}>
                    <Scatter dataKey="f" shape={<DqDot />} isAnimationActive={false} />
                </Panel>

                <Overlay />
            </div>
        </div>
    );
}
